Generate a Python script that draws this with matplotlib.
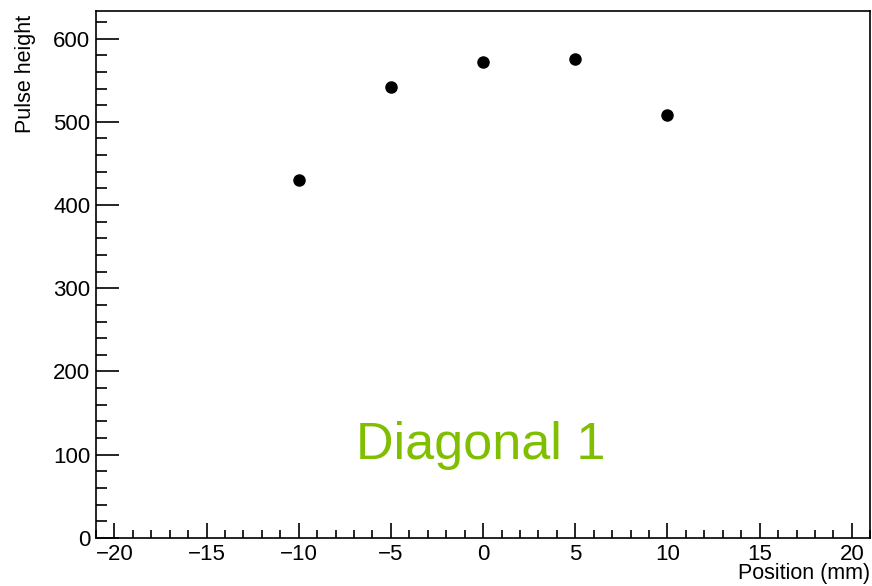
import matplotlib
matplotlib.use("Agg")
import matplotlib.pyplot as plt
from matplotlib.ticker import MultipleLocator

# Pulse height vs position along diagonal 1
positions = [-10, -5, 0, 5, 10]
pulse_heights = [430, 542, 572, 575, 508]

plt.rcParams['font.family'] = ['Liberation Sans', 'DejaVu Sans']

fig = plt.figure(figsize=(8.72, 5.86), dpi=100)
ax = fig.add_axes([0.110, 0.082, 0.888, 0.899])

ax.plot(positions, pulse_heights, 'o', color='black', markersize=8)

ax.set_xlim(-21, 21)
ax.set_ylim(0, 633)

ax.xaxis.set_major_locator(MultipleLocator(5))
ax.xaxis.set_minor_locator(MultipleLocator(1))
ax.yaxis.set_major_locator(MultipleLocator(100))
ax.yaxis.set_minor_locator(MultipleLocator(20))

# ROOT style: ticks inside, only on the bottom and left axes
ax.tick_params(axis='x', which='major', direction='in', length=11, width=1.2,
               labelsize=16, pad=4, top=False)
ax.tick_params(axis='x', which='minor', direction='in', length=5.5, width=1.2, top=False)
ax.tick_params(axis='y', which='major', direction='in', length=16.5, width=1.2,
               labelsize=16, pad=4, right=False)
ax.tick_params(axis='y', which='minor', direction='in', length=8, width=1.2, right=False)

for s in ax.spines.values():
    s.set_linewidth(1.2)

ax.set_xlabel('Position (mm)', fontsize=15.5, loc='right')
ax.xaxis.set_label_coords(1.0, -0.047)
ax.set_ylabel('Pulse height', fontsize=15.5)
ax.yaxis.label.set(rotation_mode='default', ha='left', va='top')
ax.yaxis.set_label_coords(-0.105, 0.992)

ax.text(-0.15, 95, 'Diagonal 1', color='#80bf00', fontsize=37.5, ha='center', va='baseline')

fig.savefig('out.png', dpi=100)
